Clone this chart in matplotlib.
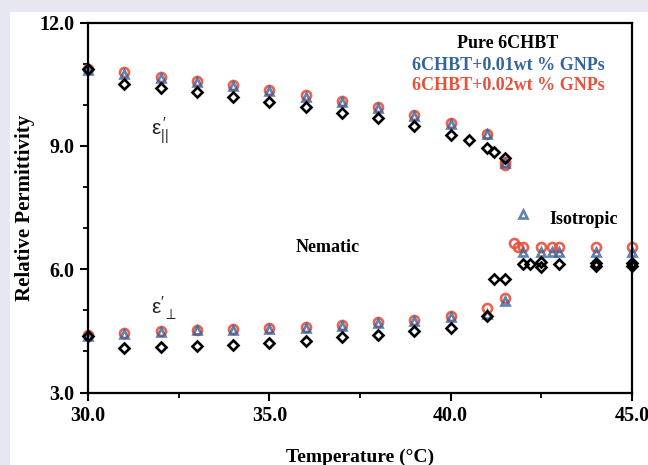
import matplotlib
matplotlib.use("Agg")
import matplotlib.pyplot as plt
from matplotlib.patches import Rectangle
from matplotlib.ticker import MultipleLocator, FormatStrFormatter

# Pure 6CHBT (black diamonds)
pure_par_T = [30, 31, 32, 33, 34, 35, 36, 37, 38, 39, 40, 40.5, 41, 41.2, 41.5]
pure_par_eps = [10.88, 10.50, 10.42, 10.32, 10.20, 10.08, 9.95, 9.80, 9.67, 9.49, 9.26, 9.14, 8.94, 8.86, 8.71]
pure_perp_T = [30, 31, 32, 33, 34, 35, 36, 37, 38, 39, 40, 41, 41.2, 41.5]
pure_perp_eps = [4.37, 4.08, 4.10, 4.14, 4.16, 4.20, 4.26, 4.35, 4.41, 4.49, 4.57, 4.85, 5.77, 5.77]
pure_iso_T = [42.0, 42.2, 42.5, 42.5, 43.0, 44.0, 44.0, 45.0, 45.0]
pure_iso_eps = [6.12, 6.12, 6.17, 6.05, 6.12, 6.15, 6.08, 6.15, 6.08]

# 6CHBT + 0.01 wt% GNPs (blue triangles)
g01_par_T = [30, 31, 32, 33, 34, 35, 36, 37, 38, 39, 40, 41, 41.5]
g01_par_eps = [10.86, 10.76, 10.65, 10.55, 10.45, 10.33, 10.20, 10.07, 9.92, 9.73, 9.53, 9.29, 8.58]
g01_perp_T = [30, 31, 32, 33, 34, 35, 36, 37, 38, 39, 40, 41, 41.5]
g01_perp_eps = [4.37, 4.43, 4.47, 4.51, 4.52, 4.55, 4.57, 4.63, 4.69, 4.75, 4.83, 4.90, 5.22]
g01_iso_T = [42.0, 42.0, 42.5, 42.8, 43.0, 44.0, 45.0]
g01_iso_eps = [7.35, 6.43, 6.43, 6.43, 6.43, 6.43, 6.43]

# 6CHBT + 0.02 wt% GNPs (red circles)
g02_par_T = [30, 31, 32, 33, 34, 35, 36, 37, 38, 39, 40, 41, 41.5, 41.5]
g02_par_eps = [10.88, 10.81, 10.68, 10.59, 10.48, 10.36, 10.23, 10.10, 9.95, 9.75, 9.55, 9.30, 8.62, 8.54]
g02_perp_T = [30, 31, 32, 33, 34, 35, 36, 37, 38, 39, 40, 41, 41.5]
g02_perp_eps = [4.39, 4.45, 4.49, 4.53, 4.54, 4.57, 4.59, 4.65, 4.71, 4.77, 4.85, 5.06, 5.30]
g02_iso_T = [41.75, 41.85, 42.0, 42.5, 42.8, 43.0, 44.0, 45.0]
g02_iso_eps = [6.63, 6.53, 6.53, 6.53, 6.53, 6.53, 6.53, 6.53]

BLUE = "#3464a0"
RED = "#e8503a"
serif = "Liberation Serif"

plt.rcParams["mathtext.fontset"] = "custom"
plt.rcParams["mathtext.rm"] = "Liberation Sans"

fig = plt.figure(figsize=(6.48, 4.65), dpi=100, facecolor="#e7e7f1")
fig.patches.append(Rectangle((10 / 648, 0), 1, 1 - 12 / 465, transform=fig.transFigure,
                             facecolor="white", edgecolor="none", zorder=-10))
ax = fig.add_axes([0.1358, 0.1559, 0.9753 - 0.1358, 0.9512 - 0.1559])
ax.set_facecolor("white")

ms_kw = dict(linestyle="none", markerfacecolor="none", markeredgewidth=1.9, clip_on=False)

for T, e in [(g02_par_T, g02_par_eps), (g02_perp_T, g02_perp_eps), (g02_iso_T, g02_iso_eps)]:
    ax.plot(T, e, marker="o", markersize=6.5, markeredgecolor=RED, alpha=0.9, **ms_kw)
for T, e in [(g01_par_T, g01_par_eps), (g01_perp_T, g01_perp_eps), (g01_iso_T, g01_iso_eps)]:
    ax.plot(T, e, marker="^", markersize=6, markeredgecolor=BLUE, alpha=0.8, **ms_kw)
for T, e in [(pure_par_T, pure_par_eps), (pure_perp_T, pure_perp_eps), (pure_iso_T, pure_iso_eps)]:
    ax.plot(T, e, marker="D", markersize=4.8, markeredgecolor="black", **ms_kw)

ax.set_xlim(30, 45)
ax.set_ylim(3, 12)
ax.xaxis.set_major_locator(MultipleLocator(5))
ax.xaxis.set_minor_locator(MultipleLocator(2.5))
ax.yaxis.set_major_locator(MultipleLocator(3))
ax.yaxis.set_minor_locator(MultipleLocator(1))
ax.xaxis.set_major_formatter(FormatStrFormatter("%.1f"))
ax.yaxis.set_major_formatter(FormatStrFormatter("%.1f"))
ax.tick_params(which="major", direction="out", length=6, width=1.5, pad=4)
ax.tick_params(which="minor", direction="out", length=3.5, width=1.3)
for lab in ax.get_xticklabels() + ax.get_yticklabels():
    lab.set_fontfamily(serif)
    lab.set_fontweight("bold")
    lab.set_fontsize(14.5)
for sp in ax.spines.values():
    sp.set_linewidth(1.6)

ax.set_xlabel("Temperature (°C)", fontfamily=serif, fontweight="bold", fontsize=14, labelpad=16)
ax.set_ylabel("Relative Permittivity", fontfamily=serif, fontweight="bold", fontsize=15, labelpad=3)

txt = dict(fontfamily=serif, fontweight="bold", fontsize=13, ha="center", va="center")
ax.text(41.58, 11.50, "Pure 6CHBT", color="black", **txt)
ax.text(41.58, 10.97, "6CHBT+0.01wt % GNPs", color=BLUE, **txt)
ax.text(41.58, 10.47, "6CHBT+0.02wt % GNPs", color=RED, **txt)
ax.text(36.62, 6.52, "Nematic", color="black", **txt)
ax.text(43.68, 7.22, "Isotropic", color="black", **txt)

ax.text(31.75, 9.38, r"$\mathregular{\epsilon_{||}^{\,\prime}}$", fontfamily="Liberation Sans",
        fontsize=15, ha="left", va="center", color="#222222")
ax.text(31.75, 5.05, r"$\mathregular{\epsilon^{\prime}_{\,\perp}}$", fontfamily="Liberation Sans",
        fontsize=15, ha="left", va="center", color="#222222")

fig.savefig("out.png", dpi=100, facecolor=fig.get_facecolor())
